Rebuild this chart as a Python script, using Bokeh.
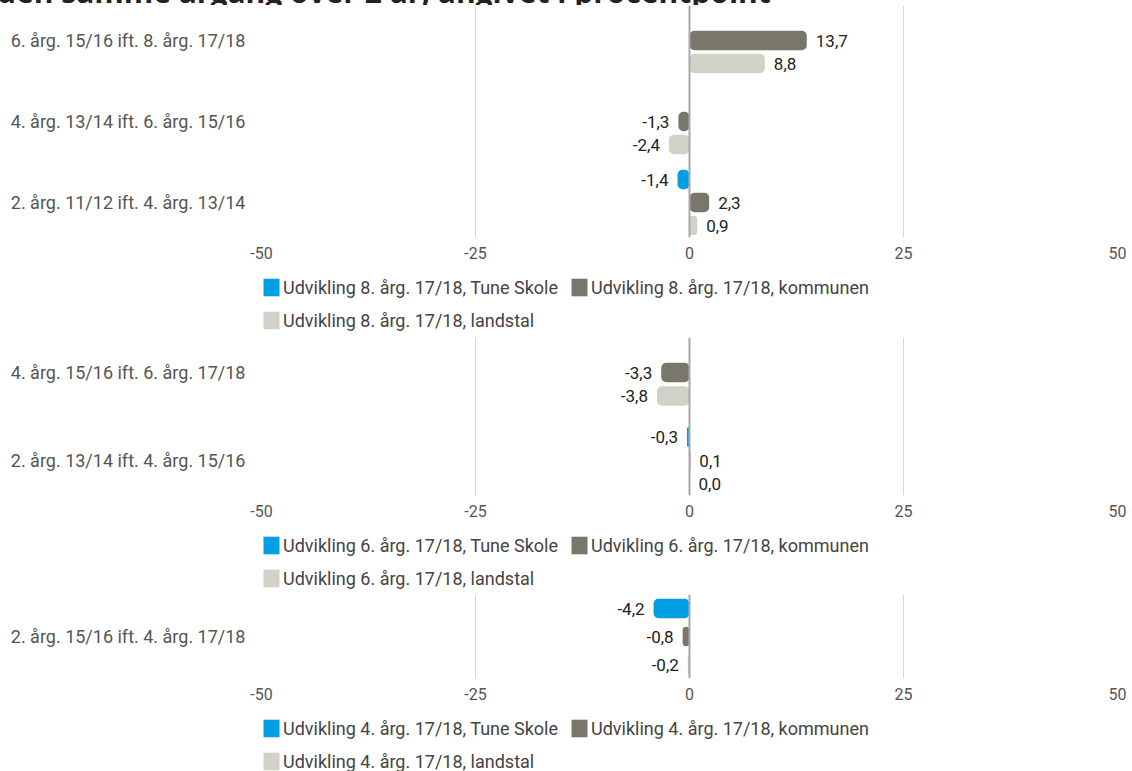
from bokeh.plotting import figure
from bokeh.models import ColumnDataSource, FactorRange, FixedTicker, Span, Legend, LegendItem, Div
from bokeh.transform import dodge
from bokeh.layouts import column
from bokeh.embed import file_html
from bokeh.resources import INLINE
from bokeh.core.properties import value

# ---------------- data ----------------
title_text = "den samme årgang over 2 år, angivet i procentpoint"

x_ticks = [-50, -25, 0, 25, 50]
series_colors = ["#009FE3", "#79776A", "#D1D1C8"]

# panel 1 (8. årgang)
p1_categories = ["6. årg. 15/16 ift. 8. årg. 17/18",
                 "4. årg. 13/14 ift. 6. årg. 15/16",
                 "2. årg. 11/12 ift. 4. årg. 13/14"]
p1_tune = [None, None, -1.4]
p1_kommune = [13.7, -1.3, 2.3]
p1_landstal = [8.8, -2.4, 0.9]
p1_legend = ["Udvikling 8. årg. 17/18, Tune Skole",
             "Udvikling 8. årg. 17/18, kommunen",
             "Udvikling 8. årg. 17/18, landstal"]

# panel 2 (6. årgang)
p2_categories = ["4. årg. 15/16 ift. 6. årg. 17/18",
                 "2. årg. 13/14 ift. 4. årg. 15/16"]
p2_tune = [None, -0.3]
p2_kommune = [-3.3, 0.1]
p2_landstal = [-3.8, 0.0]
p2_legend = ["Udvikling 6. årg. 17/18, Tune Skole",
             "Udvikling 6. årg. 17/18, kommunen",
             "Udvikling 6. årg. 17/18, landstal"]

# panel 3 (4. årgang)
p3_categories = ["2. årg. 15/16 ift. 4. årg. 17/18"]
p3_tune = [-4.2]
p3_kommune = [-0.8]
p3_landstal = [-0.2]
p3_legend = ["Udvikling 4. årg. 17/18, Tune Skole",
             "Udvikling 4. årg. 17/18, kommunen",
             "Udvikling 4. årg. 17/18, landstal"]

# ---------------- style ----------------
FONT = "Roboto"
FS_CAT = "18px"
FS_TICK = "16px"
FS_VAL = "17px"
FS_LEG = "18px"
LEFT = 261
FRAME_W = 856
RIGHT = 9
WIDTH = LEFT + FRAME_W + RIGHT
AXIS_H = 35


def fmt(v):
    return f"{v:.1f}".replace(".", ",")


def make_chart(categories, series, frame_h, cat_px, pitch_px, bar_px):
    n = len(categories)
    pad = (frame_h / cat_px - n) / 2.0
    d = pitch_px / cat_px
    bh = bar_px / cat_px
    y_range = FactorRange(factors=list(reversed(categories)),
                          range_padding=pad, range_padding_units="absolute")
    p = figure(width=WIDTH, height=frame_h + AXIS_H,
               x_range=(-50, 50), y_range=y_range,
               output_backend="svg", toolbar_location=None,
               min_border_left=LEFT, min_border_right=RIGHT,
               min_border_top=0, min_border_bottom=AXIS_H)
    p.outline_line_color = None

    p.xaxis.ticker = FixedTicker(ticks=x_ticks)
    p.xaxis.major_label_overrides = {t: str(t) for t in x_ticks}
    p.xaxis.axis_line_color = None
    p.xaxis.major_tick_line_color = None
    p.xaxis.major_tick_out = 0
    p.xaxis.major_tick_in = 0
    p.xaxis.minor_tick_line_color = None
    p.xaxis.major_label_standoff = 9
    p.xaxis.major_label_text_font = FONT
    p.xaxis.major_label_text_font_size = FS_TICK
    p.xaxis.major_label_text_color = "#555555"

    p.yaxis.axis_line_color = None
    p.yaxis.major_tick_line_color = None
    p.yaxis.major_tick_out = 0
    p.yaxis.major_tick_in = 0
    p.yaxis.major_label_standoff = 16
    p.yaxis.major_label_text_font = FONT
    p.yaxis.major_label_text_font_size = FS_CAT
    p.yaxis.major_label_text_color = "#555555"

    p.ygrid.grid_line_color = None
    p.xgrid.grid_line_color = "#d6d6d6"
    p.xgrid.grid_line_width = 1

    offsets = [d, 0, -d]
    sources = []
    for vals, color, off in zip(series, series_colors, offsets):
        ys, xs, txt, align, xoff = [], [], [], [], []
        for c, v in zip(categories, vals):
            if v is None:
                continue
            ys.append(c)
            xs.append(v)
            txt.append(fmt(v))
            align.append("right" if v < 0 else "left")
            xoff.append(-9 if v < 0 else 9)
        src = ColumnDataSource(dict(y=ys, x=xs, label=txt, align=align, xoff=xoff))
        p.hbar(y=dodge("y", off, range=y_range), left=0, right="x", height=bh,
               source=src, fill_color=color, line_color=None, border_radius=5)
        p.text(x="x", y=dodge("y", off, range=y_range), text="label", source=src,
               text_align="align", x_offset="xoff", text_baseline="middle",
               text_font=value(FONT), text_font_size=FS_VAL, text_color="#222222")
        sources.append(src)

    p.add_layout(Span(location=0, dimension="height", line_color="#a8a8a8", line_width=2))
    return p, sources


def make_legend(categories, sources, labels, height):
    p = figure(width=WIDTH, height=height, x_range=(-50, 50),
               y_range=FactorRange(factors=list(reversed(categories))),
               output_backend="svg", toolbar_location=None,
               min_border_left=LEFT - 2, min_border_right=RIGHT,
               min_border_top=4, min_border_bottom=0)
    p.axis.visible = False
    p.grid.visible = False
    p.outline_line_color = None
    rends = []
    for src, color in zip(sources, series_colors):
        # legend swatches only: the renderer itself stays hidden
        rends.append(p.hbar(y="y", left=0, right="x", height=0.5, source=src,
                            fill_color=color, line_color=None, border_radius=3,
                            visible=False))
    legend = Legend(items=[LegendItem(label=l, renderers=[r]) for l, r in zip(labels, rends)],
                    orientation="horizontal", ncols=2, location="top_left",
                    margin=0, padding=1, spacing=11,
                    glyph_width=20, glyph_height=22, label_height=21, label_standoff=2,
                    label_text_font=FONT, label_text_font_size=FS_LEG,
                    label_text_color="#444444", label_text_baseline="middle",
                    inactive_fill_alpha=0,
                    border_line_color=None, background_fill_alpha=0)
    p.add_layout(legend)
    return p


title = Div(text=('<div style="position:relative; top:-25px; left:-3px; white-space:nowrap; '
                  'font-family:\'Open Sans\'; font-weight:bold; font-size:30px; '
                  'line-height:34px; color:#222222;">' + title_text + '</div>'),
            width=WIDTH, height=5, margin=0, styles={"overflow": "hidden"})

c1, s1 = make_chart(p1_categories, [p1_tune, p1_kommune, p1_landstal], 232, 81, 23, 19.5)
l1 = make_legend(p1_categories, s1, p1_legend, 65)
c2, s2 = make_chart(p2_categories, [p2_tune, p2_kommune, p2_landstal], 158, 88, 23.5, 19.5)
l2 = make_legend(p2_categories, s2, p2_legend, 64)
c3, s3 = make_chart(p3_categories, [p3_tune, p3_kommune, p3_landstal], 84, 84, 28, 19.5)
l3 = make_legend(p3_categories, s3, p3_legend, 58)

layout = column(title, c1, l1, c2, l2, c3, l3, spacing=0)

open("out.html", "w").write(file_html(layout, INLINE))
